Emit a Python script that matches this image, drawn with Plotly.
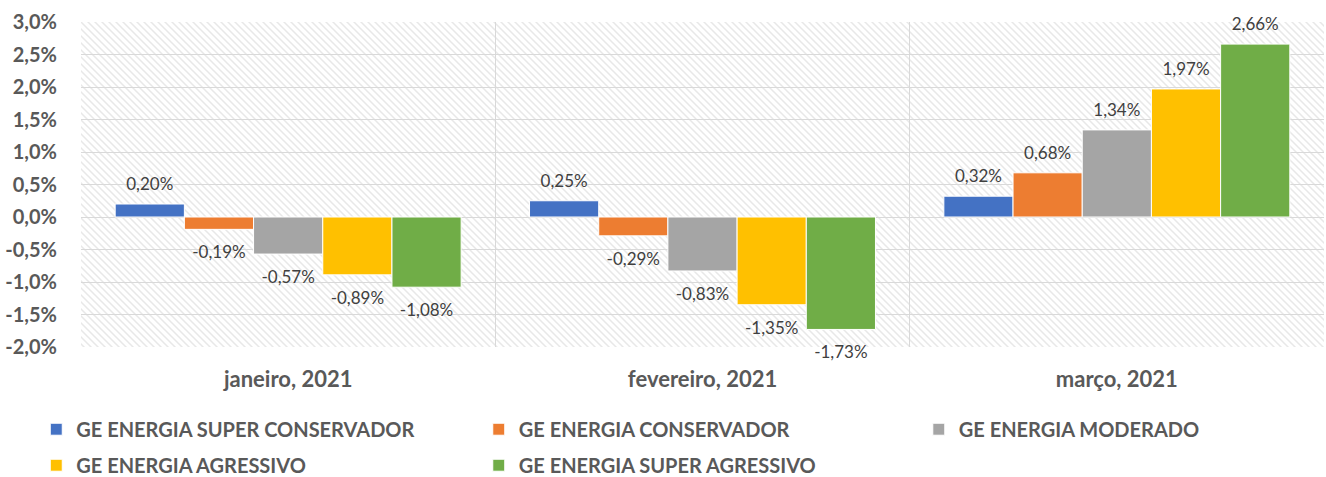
import base64
import plotly.graph_objects as go

months = ["janeiro, 2021", "fevereiro, 2021", "março, 2021"]
series_names = [
    "GE ENERGIA SUPER CONSERVADOR",
    "GE ENERGIA CONSERVADOR",
    "GE ENERGIA MODERADO",
    "GE ENERGIA AGRESSIVO",
    "GE ENERGIA SUPER AGRESSIVO",
]
super_conservador = [0.20, 0.25, 0.32]
conservador = [-0.19, -0.29, 0.68]
moderado = [-0.57, -0.83, 1.34]
agressivo = [-0.89, -1.35, 1.97]
super_agressivo = [-1.08, -1.73, 2.66]
series_values = [super_conservador, conservador, moderado, agressivo, super_agressivo]

y_tick_vals = [-2.0, -1.5, -1.0, -0.5, 0.0, 0.5, 1.0, 1.5, 2.0, 2.5, 3.0]
y_tick_text = ["-2,0%", "-1,5%", "-1,0%", "-0,5%", "0,0%", "0,5%", "1,0%", "1,5%",
               "2,0%", "2,5%", "3,0%"]

colors = ["#4472C4", "#ED7D31", "#A5A5A5", "#FFC000", "#70AD47"]
legend_ids = ["legend", "legend2", "legend3", "legend", "legend2"]

FONT = "Lato"
TICK_COLOR = "#595959"
LABEL_COLOR = "#404040"

fig = go.Figure()
for name, vals, col, lg in zip(series_names, series_values, colors, legend_ids):
    fig.add_trace(go.Bar(
        x=months, y=vals, name=name,
        marker=dict(color=col, line=dict(color="white", width=1)),
        legend=lg, legendgroup=name, offsetgroup=name,
        hoverinfo="x+y+name",
    ))
for name, vals in zip(series_names, series_values):
    fig.add_trace(go.Scatter(
        x=months, y=vals, mode="markers+text",
        text=[f"{v:.2f}%".replace(".", ",") for v in vals],
        textposition=["top center" if v >= 0 else "bottom center" for v in vals],
        textfont=dict(family=FONT, size=17, color=LABEL_COLOR),
        marker=dict(size=[14 if v >= 0 else 24 for v in vals], color="rgba(0,0,0,0)",
                    line=dict(width=0)),
        offsetgroup=name, showlegend=False, hoverinfo="skip", cliponaxis=False,
    ))

# diagonal hatch background for the plot area
pw, ph = 1243, 325
svg = (
    f'<svg xmlns="http://www.w3.org/2000/svg" width="{pw}" height="{ph}">'
    '<defs><pattern id="p" width="7" height="7" patternUnits="userSpaceOnUse">'
    '<rect width="7" height="7" fill="white"/>'
    '<path d="M-1,-1 L8,8 M-1,6 L1,8 M6,-1 L8,1" stroke="#e8e8e8" stroke-width="1.5"/>'
    '</pattern></defs>'
    f'<rect width="{pw}" height="{ph}" fill="url(#p)"/></svg>'
)
src = "data:image/svg+xml;base64," + base64.b64encode(svg.encode()).decode()

fig.update_layout(
    width=1326, height=477,
    margin=dict(l=81, r=2, t=22, b=130, autoexpand=False),
    paper_bgcolor="white", plot_bgcolor="white",
    barmode="group", bargap=0.165, bargroupgap=0,
    scattermode="group",
    separators=",.",
    font=dict(family=FONT, color=TICK_COLOR),
    images=[dict(source=src, xref="paper", yref="paper", x=0, y=1, sizex=1, sizey=1,
                 xanchor="left", yanchor="top", sizing="stretch", layer="below")],
    xaxis=dict(
        type="category", tickson="boundaries", showgrid=True, gridcolor="#d9d9d9", gridwidth=1,
        ticks="", showline=False, zeroline=False,
        tickfont=dict(family=FONT, size=22, color=TICK_COLOR, weight="bold"),
        ticklabelstandoff=17,
    ),
    yaxis=dict(
        range=[-2.0, 3.0], tickvals=y_tick_vals, ticktext=y_tick_text,
        showgrid=True, gridcolor="#d9d9d9", gridwidth=1,
        zeroline=True, zerolinecolor="#d9d9d9", zerolinewidth=1,
        showline=False, ticks="",
        tickfont=dict(family=FONT, size=20, color=TICK_COLOR, weight="bold"),
        ticklabelstandoff=23,
    ),
)
legend_common = dict(
    orientation="v", xanchor="left", yanchor="top", y=-0.193,
    font=dict(family=FONT, size=20, color=TICK_COLOR, weight="bold"),
    tracegroupgap=7, bgcolor="rgba(0,0,0,0)", itemclick=False, itemdoubleclick=False,
)
fig.update_layout(
    legend=dict(x=-0.036, **legend_common),
    legend2=dict(x=0.320, **legend_common),
    legend3=dict(x=0.674, **legend_common),
)
fig.write_html("out.html", config={"displayModeBar": False},
               post_script="document.body.style.margin='0px';")
